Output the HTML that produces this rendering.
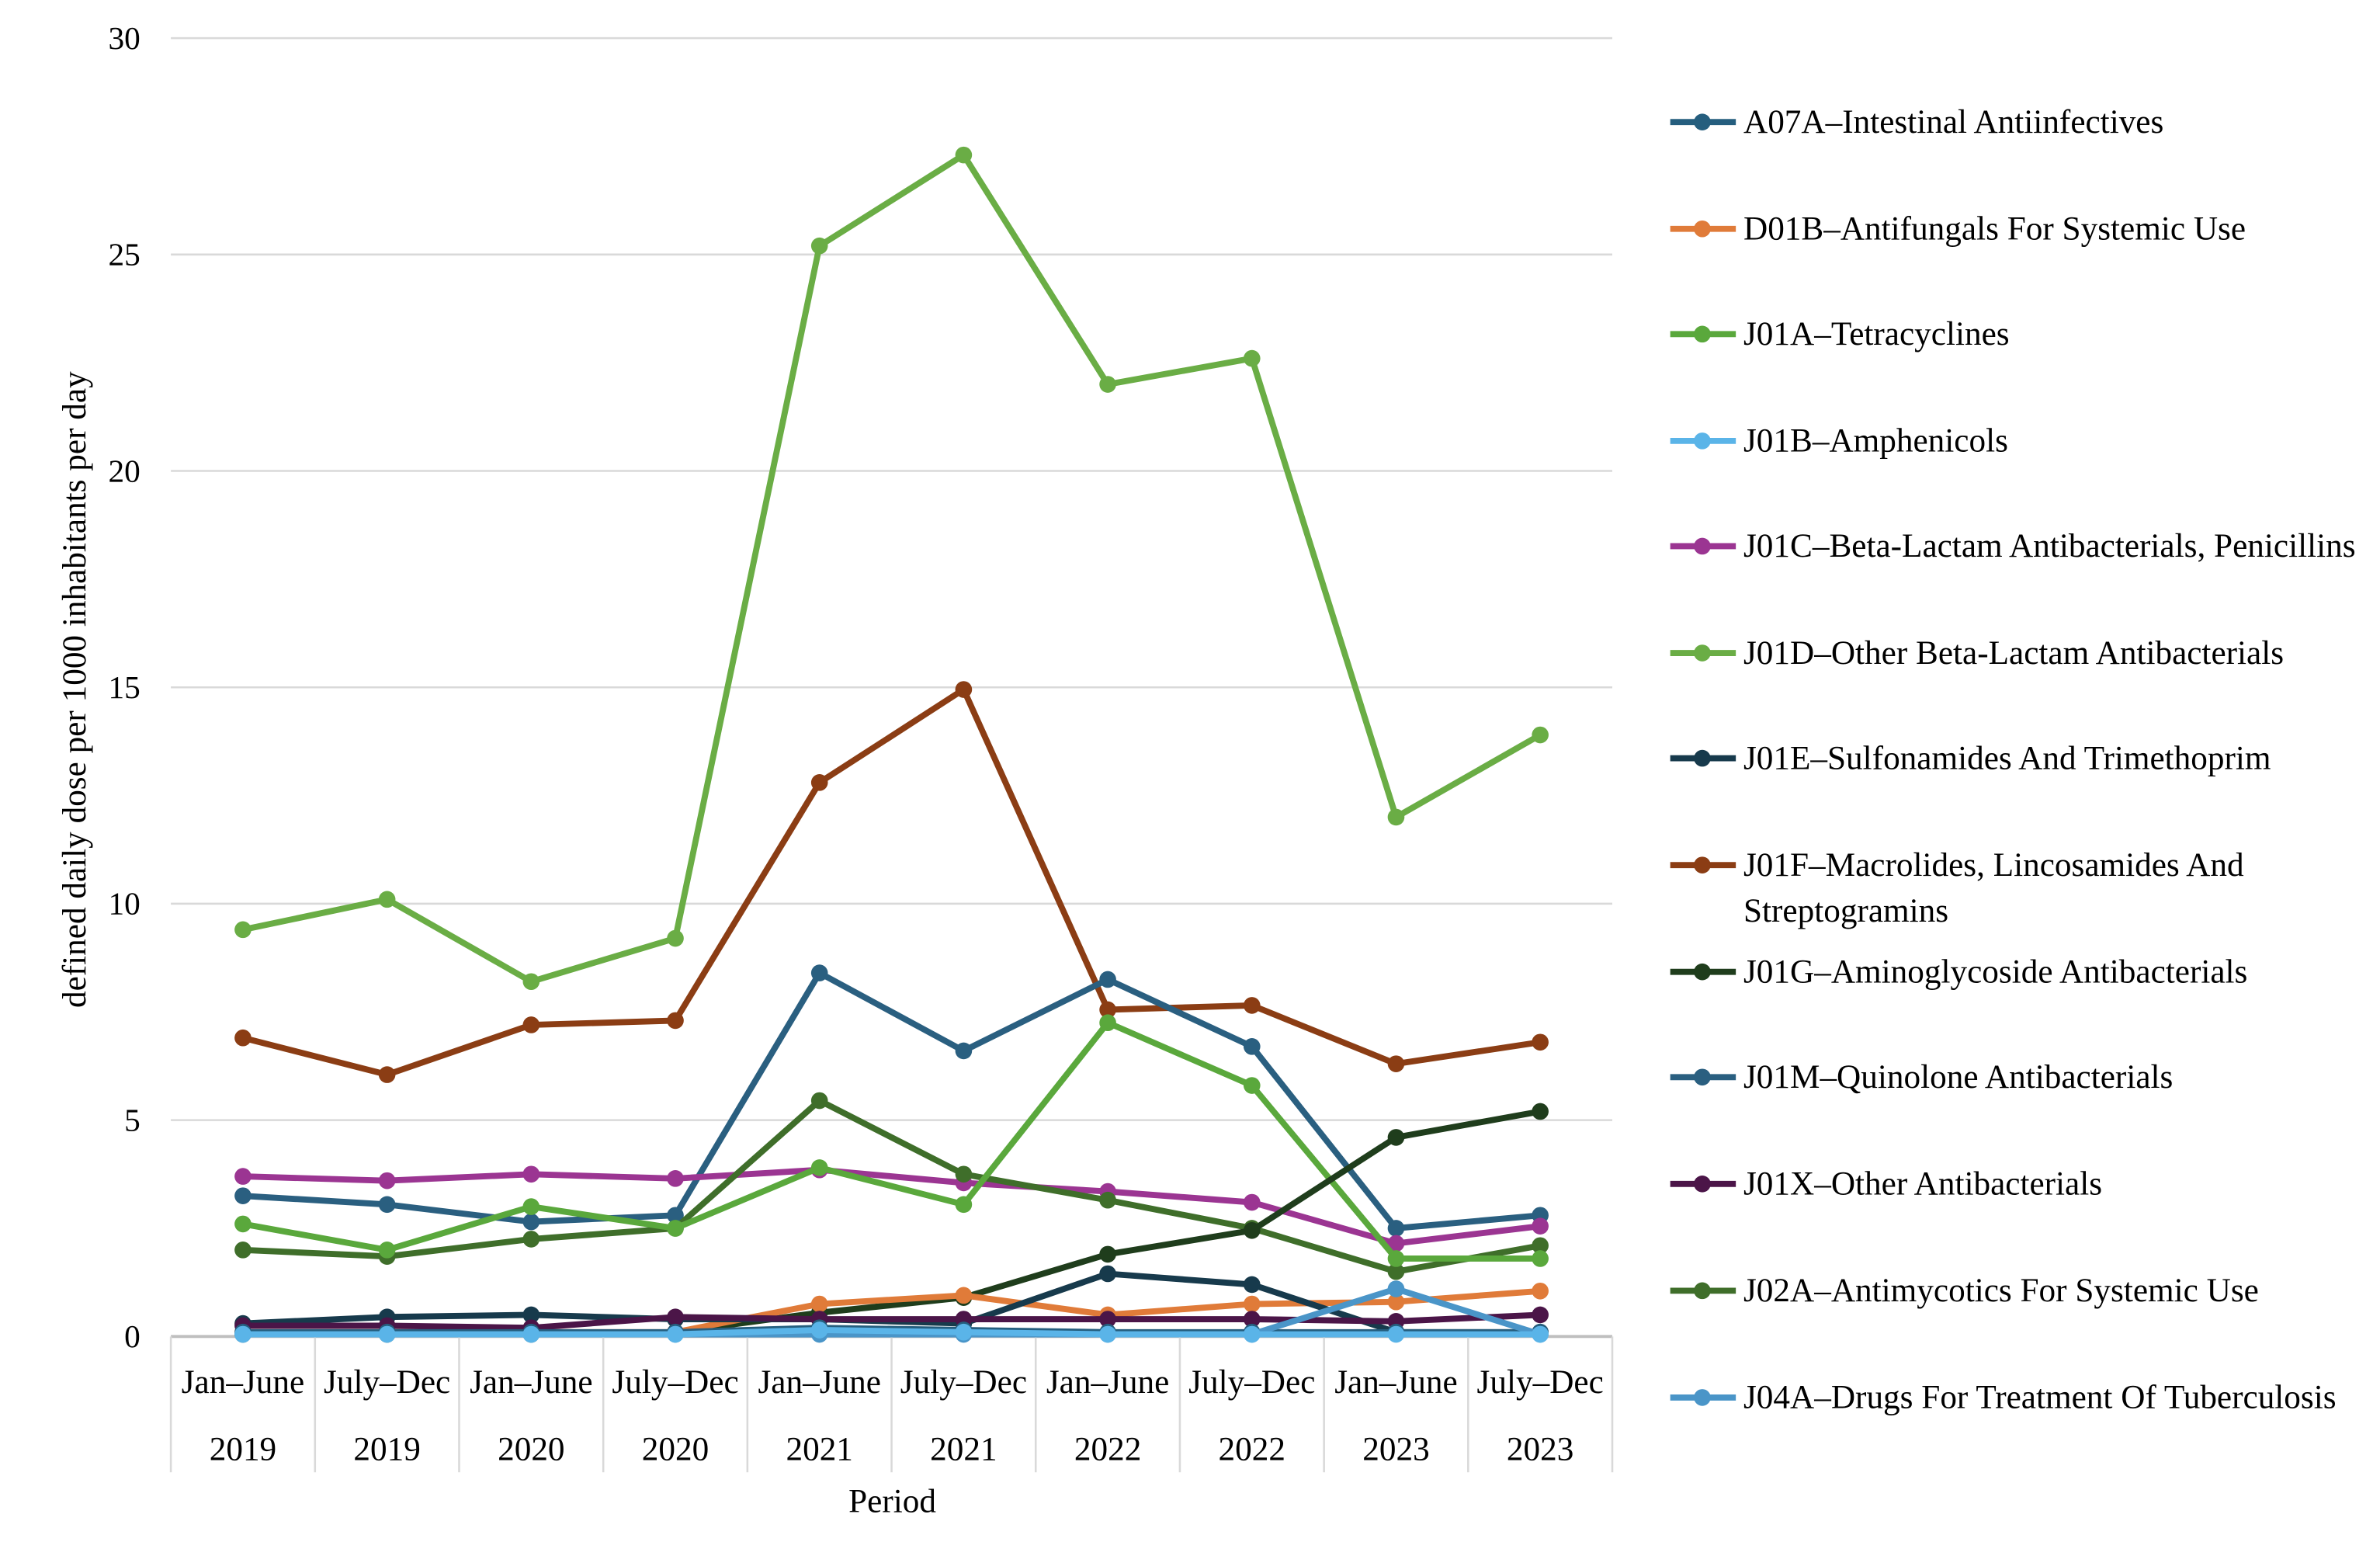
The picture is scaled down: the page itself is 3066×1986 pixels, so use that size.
<!DOCTYPE html>
<html><head><meta charset="utf-8"><style>
html,body{margin:0;padding:0;background:#fff;}
svg{display:block;font-family:"Liberation Serif",serif;}
</style></head><body>
<svg id="chart" width="3066" height="1986" viewBox="0 0 1560.3 1010.7" xmlns="http://www.w3.org/2000/svg"></svg>
<script>
const categories = ["Jan–June","July–Dec","Jan–June","July–Dec","Jan–June","July–Dec","Jan–June","July–Dec","Jan–June","July–Dec"];
const years = ["2019","2019","2020","2020","2021","2021","2022","2022","2023","2023"];
const yTicks = [0,5,10,15,20,25,30];
const seriesNames = ["A07A–Intestinal Antiinfectives","D01B–Antifungals For Systemic Use","J01A–Tetracyclines","J01B–Amphenicols","J01C–Beta-Lactam Antibacterials, Penicillins","J01D–Other Beta-Lactam Antibacterials","J01E–Sulfonamides And Trimethoprim","J01F–Macrolides, Lincosamides And Streptogramins","J01G–Aminoglycoside Antibacterials","J01M–Quinolone Antibacterials","J01X–Other Antibacterials","J02A–Antimycotics For Systemic Use","J04A–Drugs For Treatment Of Tuberculosis"];
const seriesColors = ["#255e7e","#e07b39","#5aa83c","#5ab4e8","#9b3592","#6aad45","#173a4c","#8b3d14","#1f3d1c","#2a5f80","#4b1548","#3f6e2a","#4a95c8"];
const sA07A = [0.1,0.1,0.1,0.1,0.2,0.15,0.1,0.1,0.1,0.1];
const sD01B = [0.1,0.1,0.1,0.1,0.75,0.95,0.5,0.75,0.8,1.05];
const sJ01A = [2.6,2.0,3.0,2.5,3.9,3.05,7.25,5.8,1.8,1.8];
const sJ01B = [0.05,0.05,0.05,0.05,0.15,0.1,0.05,0.05,0.05,0.05];
const sJ01C = [3.7,3.6,3.75,3.65,3.85,3.55,3.35,3.1,2.15,2.55];
const sJ01D = [9.4,10.1,8.2,9.2,25.2,27.3,22.0,22.6,12.0,13.9];
const sJ01E = [0.3,0.45,0.5,0.4,0.4,0.3,1.45,1.2,0.1,0.1];
const sJ01F = [6.9,6.05,7.2,7.3,12.8,14.95,7.55,7.65,6.3,6.8];
const sJ01G = [0.05,0.05,0.05,0.1,0.55,0.9,1.9,2.45,4.6,5.2];
const sJ01M = [3.25,3.05,2.65,2.8,8.4,6.6,8.25,6.7,2.5,2.8];
const sJ01X = [0.25,0.25,0.2,0.45,0.4,0.4,0.4,0.4,0.35,0.5];
const sJ02A = [2.0,1.85,2.25,2.5,5.45,3.75,3.15,2.5,1.5,2.1];
const sJ04A = [0.05,0.05,0.05,0.05,0.05,0.05,0.05,0.05,1.1,0.05];
const seriesData = [sA07A,sD01B,sJ01A,sJ01B,sJ01C,sJ01D,sJ01E,sJ01F,sJ01G,sJ01M,sJ01X,sJ02A,sJ04A];

const NS="http://www.w3.org/2000/svg";
const svg=document.getElementById('chart');
const X0=112,X1=1057,Y0=876,Y30=25;
const bw=(X1-X0)/categories.length;
function xs(i){return X0+bw*(i+0.5);}
function ys(v){return Y0-(Y0-Y30)*v/30;}
function mk(tag,attrs,parent){const e=document.createElementNS(NS,tag);for(const k in attrs)e.setAttribute(k,attrs[k]);(parent||svg).appendChild(e);return e;}

const grid=mk('g',{});


yTicks.forEach(t=>{
  const l=mk('line',{x1:X0,x2:X1,y1:ys(t),y2:ys(t),stroke:t===0?'#bfbfbf':'#d9d9d9','stroke-width':t===0?2:1.3},grid);
  
  
  const tx=mk('text',{x:92,y:ys(t)+7,'text-anchor':'end','font-size':21,fill:'#000'});
  tx.textContent=t;
  
  
});
for(let i=0;i<=categories.length;i++){
  const l=mk('line',{x1:X0+bw*i,x2:X0+bw*i,y1:Y0,y2:965,stroke:'#d9d9d9','stroke-width':1.3});
  
  
}
categories.forEach((c,i)=>{
  const t=mk('text',{x:xs(i),y:913,'text-anchor':'middle','font-size':22,fill:'#000'});
  t.textContent=c;
  
  
  const y=mk('text',{x:xs(i),y:957,'text-anchor':'middle','font-size':22,fill:'#000'});
  y.textContent=years[i];
  
  
});
const xt=mk('text',{x:585,y:991,'text-anchor':'middle','font-size':22,fill:'#000'});
xt.textContent='Period';


const yt=mk('text',{x:0,y:0,'text-anchor':'middle','font-size':22,fill:'#000',transform:'translate(56,452) rotate(-90)'});
yt.textContent='defined daily dose per 1000 inhabitants per day';



const order=[5,7,9,4,11,2,8,1,6,10,0,12,3];
order.forEach(si=>{
  const g=mk('g',{});
  
  
  const d=seriesData[si].map((v,i)=>(i?'L':'M')+xs(i)+','+ys(v)).join(' ');
  const p=mk('path',{d:d,fill:'none',stroke:seriesColors[si],'stroke-width':4,'stroke-linejoin':'round'},g);
  
  
  seriesData[si].forEach((v,i)=>{
    const c=mk('circle',{cx:xs(i),cy:ys(v),r:5.5,fill:seriesColors[si]},g);
    
    
  });
});

const legY=[80,150,219,289,358,428,497,567,637,706,776,846,916];
const leg=mk('g',{});


seriesNames.forEach((n,i)=>{
  const g=mk('g',{},leg);
  
  
  mk('line',{x1:1095,x2:1138,y1:legY[i],y2:legY[i],stroke:seriesColors[i],'stroke-width':4},g);
  mk('circle',{cx:1116,cy:legY[i],r:5.5,fill:seriesColors[i]},g);
  const t=mk('text',{x:1143,y:legY[i]+7,'font-size':22,fill:'#000'},g);
  if(i===7){
    t.textContent='J01F–Macrolides, Lincosamides And';
    const t2=mk('text',{x:1143,y:legY[i]+37,'font-size':22,fill:'#000'},g);
    t2.textContent='Streptogramins';
    
    
  } else t.textContent=n;
  
  
});
</script>
</body></html>
